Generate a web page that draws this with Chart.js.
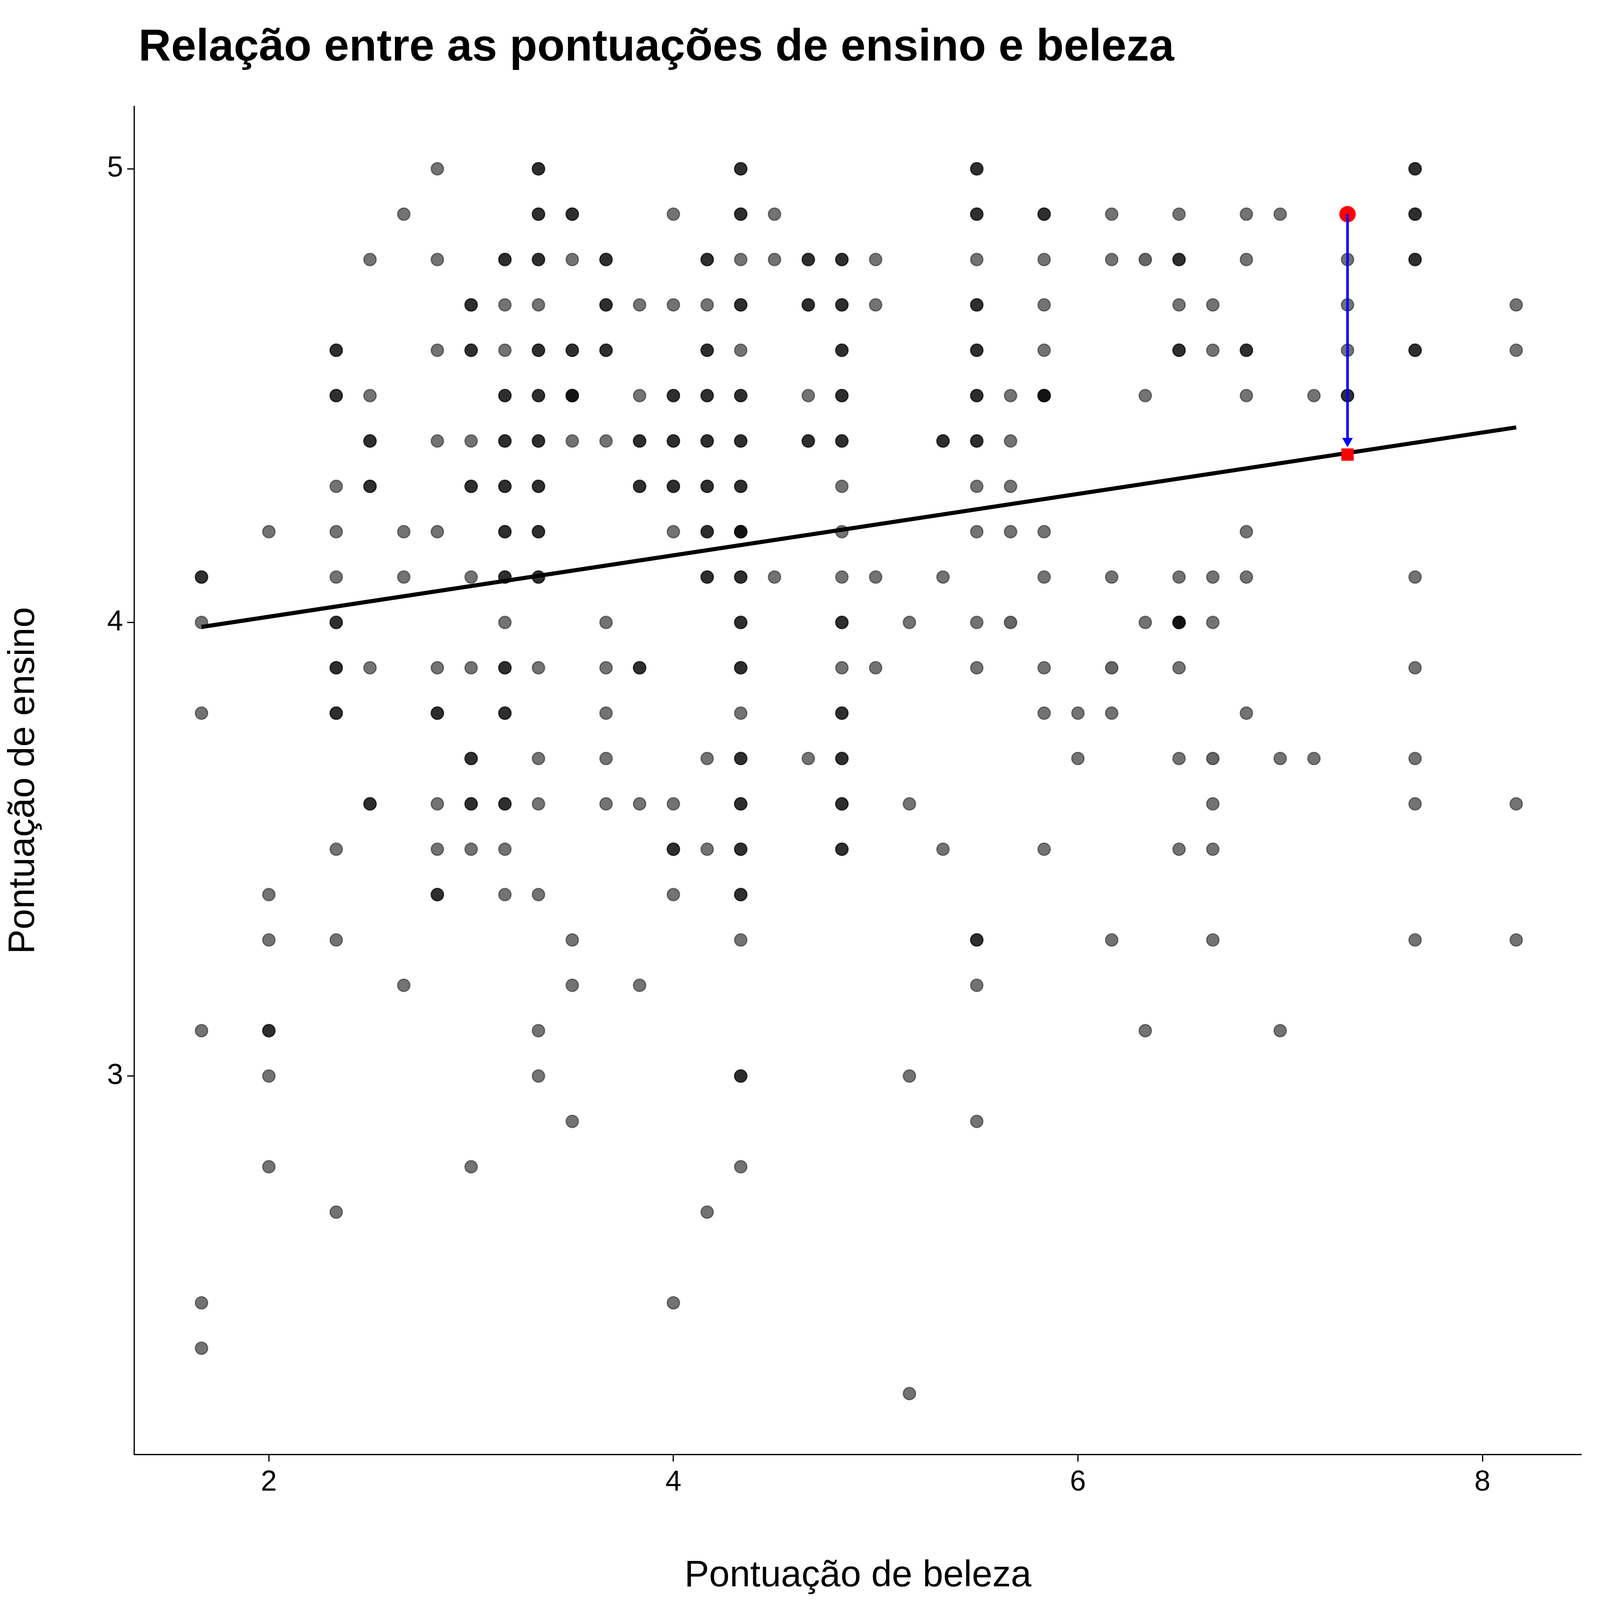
<!DOCTYPE html>
<html><head><meta charset="utf-8">
<script src="https://cdn.jsdelivr.net/npm/chart.js@4"></script>
<style>html,body{margin:0;padding:0;background:#fff;overflow:hidden}#w{width:100vw;height:100vh}</style>
</head><body><div id="w"><canvas id="c"></canvas></div>
<script>
const chartTitle = "Relação entre as pontuações de ensino e beleza";
const xTitle = "Pontuação de beleza";
const yTitle = "Pontuação de ensino";
const xTicks = [2, 4, 6, 8];
const yTicks = [3, 4, 5];
// beauty columns and teaching scores observed in each column
const beautyCols = [1.667,2.0,2.333,2.5,2.667,2.833,3.0,3.167,3.333,3.5,3.667,3.833,4.0,4.167,4.333,4.5,4.667,4.833,5.0,5.167,5.333,5.5,5.667,5.833,6.0,6.167,6.333,6.5,6.667,6.833,7.0,7.167,7.333,7.667,8.167];
const evalCols = [
 [4.1,4.0,3.8,3.1,2.5,2.4],
 [4.2,3.4,3.3,3.1,3.0,2.8],
 [4.6,4.5,4.3,4.2,4.1,4.0,3.9,3.8,3.5,3.3,2.7],
 [4.8,4.5,4.4,4.3,3.9,3.6],
 [4.9,4.2,4.1,3.2],
 [5.0,4.8,4.6,4.4,4.2,3.9,3.8,3.6,3.5,3.4],
 [4.7,4.6,4.4,4.3,4.1,3.9,3.7,3.6,3.5,2.8],
 [4.8,4.7,4.6,4.5,4.4,4.3,4.2,4.1,4.0,3.9,3.8,3.6,3.5,3.4],
 [5.0,4.9,4.8,4.7,4.6,4.5,4.4,4.3,4.2,4.1,3.9,3.7,3.6,3.4,3.1,3.0],
 [4.9,4.8,4.6,4.5,4.4,3.3,3.2,2.9],
 [4.8,4.7,4.6,4.4,4.0,3.9,3.8,3.7,3.6],
 [4.7,4.5,4.4,4.3,3.9,3.6,3.2],
 [4.9,4.7,4.5,4.4,4.3,4.2,3.6,3.5,3.4,2.5],
 [4.8,4.7,4.6,4.5,4.4,4.3,4.2,4.1,3.7,3.5,2.7],
 [5.0,4.9,4.8,4.7,4.6,4.5,4.4,4.3,4.2,4.1,4.0,3.9,3.8,3.7,3.6,3.5,3.4,3.3,3.0,2.8],
 [4.9,4.8,4.1],
 [4.8,4.7,4.5,4.4,3.7],
 [4.8,4.7,4.6,4.5,4.4,4.3,4.2,4.1,4.0,3.9,3.8,3.7,3.6,3.5],
 [4.8,4.7,4.1,3.9],
 [4.0,3.6,3.0,2.3],
 [4.4,4.1,3.5],
 [5.0,4.9,4.8,4.7,4.6,4.5,4.4,4.3,4.2,4.0,3.9,3.3,3.2,2.9],
 [4.5,4.4,4.3,4.2],
 [4.9,4.8,4.7,4.6,4.5,4.2,4.1,3.9,3.8,3.5],
 [3.8,3.7],
 [4.9,4.8,4.1,3.8,3.3],
 [4.5,4.0,3.1],
 [4.9,4.8,4.7,4.6,4.1,4.0,3.9,3.7,3.5],
 [4.7,4.6,4.1,4.0,3.6,3.5,3.3],
 [4.9,4.8,4.6,4.5,4.2,4.1,3.8],
 [4.9,3.7,3.1],
 [4.5,3.7],
 [4.8,4.7,4.6,4.5],
 [5.0,4.9,4.8,4.6,4.1,3.9,3.7,3.6,3.3],
 [4.7,4.6,3.6,3.3]
];
// overlapping (repeated) observations drawn again, making them darker
const repeatX = [1.667,2.0,2.333,2.333,2.333,2.333,2.333,2.5,2.5,2.5,2.833,2.833,3.0,3.0,3.0,3.0,3.0,3.167,3.167,3.167,3.167,3.167,3.167,3.167,3.167,3.167,3.333,3.333,3.333,3.333,3.333,3.333,3.333,3.333,3.333,3.5,3.5,3.5,3.5,3.667,3.667,3.667,3.833,3.833,3.833,4.0,4.0,4.0,4.0,4.167,4.167,4.167,4.167,4.167,4.167,4.167,4.333,4.333,4.333,4.333,4.333,4.333,4.333,4.333,4.333,4.333,4.333,4.333,4.333,4.333,4.333,4.333,4.667,4.667,4.667,4.833,4.833,4.833,4.833,4.833,4.833,4.833,4.833,4.833,4.833,5.333,5.5,5.5,5.5,5.5,5.5,5.5,5.5,5.667,5.833,5.833,5.833,6.167,6.333,6.5,6.5,6.5,6.5,6.667,6.833,7.333,7.667,7.667,7.667,7.667];
const repeatY = [4.1,3.1,4.6,4.5,4.0,3.9,3.8,4.4,4.3,3.6,3.8,3.4,4.7,4.6,4.3,3.7,3.6,4.8,4.5,4.4,4.3,4.2,4.1,3.9,3.8,3.6,5.0,4.9,4.8,4.6,4.5,4.4,4.3,4.2,4.1,4.9,4.6,4.5,4.5,4.8,4.7,4.6,4.4,4.3,3.9,4.5,4.4,4.3,3.5,4.8,4.6,4.5,4.4,4.3,4.2,4.1,5.0,4.9,4.7,4.5,4.4,4.3,4.2,4.1,4.0,3.9,3.7,3.6,3.5,3.4,3.0,4.2,4.8,4.7,4.4,4.8,4.7,4.6,4.5,4.4,4.0,3.8,3.7,3.6,3.5,4.4,5.0,4.9,4.7,4.6,4.5,4.4,3.3,4.0,4.9,4.5,4.5,3.9,4.8,4.0,4.8,4.6,4.0,3.7,4.6,4.5,4.6,5.0,4.9,4.8,3.9];
// regression line endpoints
const fitX = [1.667, 8.167];
const fitY = [3.99, 4.43];
// highlighted observation and its fitted value
const obsX = [7.333], obsY = [4.9];
const fitPtX = [7.333], fitPtY = [4.37];
const arrowY = [4.9, 4.40];

const pts = [];
beautyCols.forEach((x,i)=>evalCols[i].forEach(y=>pts.push({x,y})));
const rep = repeatX.map((x,i)=>({x,y:repeatY[i]}));
const S = window.innerWidth / 1560;
const F = "'Liberation Sans', Arial, sans-serif";

const titlePlugin = {id:'tt', afterDraw(ch){const c=ch.ctx;c.save();c.font="bold "+(44*S)+"px "+F;c.fillStyle="#000";c.textBaseline="middle";c.textAlign="left";c.fillText(chartTitle,135*S,47*S);c.restore();}};

new Chart(document.getElementById('c'),{
 data:{datasets:[
  {type:'scatter',data:pts,pointRadius:6*S,pointBackgroundColor:'rgba(0,0,0,0.55)',pointBorderColor:'rgba(0,0,0,0.45)',pointBorderWidth:1.2*S,order:5},
  {type:'scatter',data:rep,pointRadius:6*S,pointBackgroundColor:'rgba(0,0,0,0.6)',pointBorderColor:'rgba(0,0,0,0.5)',pointBorderWidth:1.2*S,order:4},
  {type:'line',data:fitX.map((x,i)=>({x,y:fitY[i]})),borderColor:'#000',borderWidth:4*S,pointRadius:0,order:3},
  {type:'scatter',data:fitPtX.map((x,i)=>({x,y:fitPtY[i]})),pointStyle:'rect',pointRadius:8.5*S,pointBackgroundColor:'#ff0000',pointBorderWidth:0,order:2},
  {type:'scatter',data:obsX.map((x,i)=>({x,y:obsY[i]})),pointRadius:8*S,pointBackgroundColor:'#ff0000',pointBorderWidth:0,order:2},
  {type:'line',data:arrowY.map(y=>({x:obsX[0],y})),borderColor:'#0000ff',borderWidth:2.5*S,pointRadius:[0,6*S],pointStyle:'triangle',pointRotation:180,pointBackgroundColor:'#0000ff',pointBorderWidth:0,order:1}
 ]},
 options:{responsive:true,maintainAspectRatio:false,animation:false,
  layout:{padding:{top:104*S,right:18*S,left:0,bottom:0}},
  plugins:{legend:{display:false},tooltip:{enabled:false}},
  scales:{
   x:{type:'linear',min:1.335,max:8.49,
    afterBuildTicks:a=>{a.ticks=xTicks.map(v=>({value:v}));},
    afterFit:a=>{a.height=(962-820)*S;},
    grid:{drawOnChartArea:false,tickLength:7*S,tickWidth:1.2*S,tickColor:'#000'},
    border:{color:'#000',width:1.2*S},
    ticks:{color:'#000',font:{family:F,size:28*S},padding:4*S,maxRotation:0},
    title:{display:true,text:xTitle,color:'#000',font:{family:F,size:36*S},padding:{top:8*S}}},
   y:{type:'linear',min:2.166,max:5.137,
    afterBuildTicks:a=>{a.ticks=yTicks.map(v=>({value:v}));},
    afterFit:a=>{a.width=131*S;},
    grid:{drawOnChartArea:false,tickLength:7*S,tickWidth:1.2*S,tickColor:'#000'},
    border:{color:'#000',width:1.2*S},
    ticks:{color:'#000',font:{family:F,size:28*S},padding:4*S},
    title:{display:true,text:yTitle,color:'#000',font:{family:F,size:36*S},padding:{bottom:4*S}}}
  }},
 plugins:[titlePlugin]
});
</script></body></html>
